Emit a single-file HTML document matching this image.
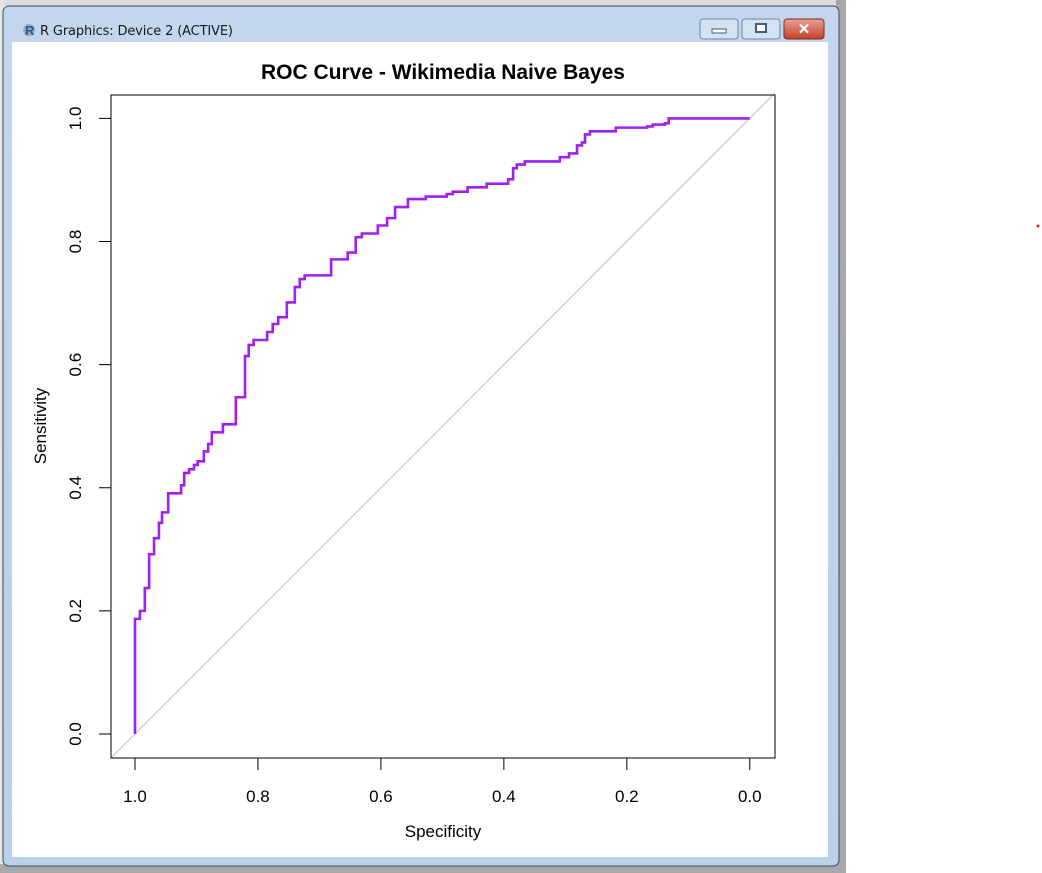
<!DOCTYPE html>
<html><head><meta charset="utf-8"><style>
body{margin:0;width:1042px;height:873px;background:#fff;position:relative;overflow:hidden;font-family:"Liberation Sans",sans-serif}
</style></head><body>
<svg width="1042" height="873" style="position:absolute;left:0;top:0">
<defs><linearGradient id="fr" x1="0" y1="0" x2="0" y2="1"><stop offset="0" stop-color="#c2d6ee"/><stop offset="1" stop-color="#b9d1ea"/></linearGradient>
<linearGradient id="cl" x1="0" y1="0" x2="0" y2="1"><stop offset="0" stop-color="#e8a194"/><stop offset="1" stop-color="#c2412a"/></linearGradient></defs>
<rect x="0" y="0" width="846" height="6" fill="#dcdcdc"/>
<rect x="0" y="0" width="4" height="873" fill="#e6e6e6"/>
<rect x="0" y="864" width="846" height="9" fill="#a8a8a8"/>
<rect x="836" y="0" width="10" height="873" fill="#a8a8a8"/>
<rect x="3" y="6" width="836" height="860" rx="6" fill="url(#fr)" stroke="#3a4a5c" stroke-width="1"/>
<rect x="12" y="42" width="816" height="815" fill="#fff"/>
<circle cx="29" cy="30" r="6" fill="#9aa8b8"/>
<text x="25" y="35" font-size="13" font-weight="bold" fill="#2a5aa8">R</text>
<text x="40" y="35" font-size="13" fill="#1a1a1a" font-family="'DejaVu Sans',sans-serif" textLength="193">R Graphics: Device 2 (ACTIVE)</text>
<g><rect x="700" y="19" width="38" height="20" rx="3" fill="#d5e2f1" stroke="#6e86a4"/><rect x="712" y="29" width="14" height="4" fill="#fff" stroke="#435a78"/></g>
<g><rect x="742" y="19" width="38" height="20" rx="3" fill="#d5e2f1" stroke="#6e86a4"/><rect x="756" y="24" width="10" height="8" fill="#fff" stroke="#435a78" stroke-width="2"/></g>
<g><rect x="784" y="19" width="40" height="20" rx="3" fill="url(#cl)" stroke="#7a2a20"/><text x="804" y="34" font-size="15" font-weight="bold" fill="#fff" text-anchor="middle">✕</text></g>
<circle cx="1038" cy="226" r="1.5" fill="#e02020"/>
<g id="chart"></g>
</svg>
<script>
const specificity=[1,1,.992,.984,.977,.969,.961,.956,.946,.925,.920,.912,.904,.898,.888,.881,.875,.857,.836,.821,.815,.807,.785,.776,.767,.753,.740,.732,.724,.681,.654,.641,.631,.605,.590,.577,.556,.527,.493,.483,.459,.428,.393,.385,.379,.366,.309,.294,.281,.273,.268,.260,.218,.167,.158,.138,.132,0];
const sensitivity=[0,.187,.200,.237,.292,.318,.343,.360,.391,.404,.424,.430,.437,.443,.459,.471,.490,.503,.547,.614,.632,.640,.653,.666,.677,.701,.726,.739,.745,.771,.782,.807,.813,.826,.838,.856,.869,.873,.877,.881,.888,.894,.901,.919,.925,.930,.937,.943,.956,.961,.974,.979,.985,.987,.990,.992,1,1];
const xTicks=[1.0,0.8,0.6,0.4,0.2,0.0];
const yTicks=[0.0,0.2,0.4,0.6,0.8,1.0];
const NS='http://www.w3.org/2000/svg';
const g=document.getElementById('chart');
const L=111,R=775,T=95,B=758;
const xmin=1.039,xmax=-0.041,ymin=-0.039,ymax=1.038;
const sx=v=>L+(v-xmin)/(xmax-xmin)*(R-L);
const sy=v=>B-(v-ymin)/(ymax-ymin)*(B-T);
function mk(tag,at,txt){const e=document.createElementNS(NS,tag);for(const k in at)e.setAttribute(k,at[k]);if(txt!=null)e.textContent=txt;g.appendChild(e);return e;}
let e;
e=mk('line',{x1:sx(xmin),y1:sy(1-xmin),x2:sx(xmax),y2:sy(1-xmax),stroke:'#c0c0c0','stroke-width':1});


let d='M'+sx(specificity[0])+' '+sy(sensitivity[0]);
for(let i=1;i<specificity.length;i++){d+=' H'+sx(specificity[i])+' V'+sy(sensitivity[i]);}
e=mk('path',{d:d,fill:'none',stroke:'#a020f0','stroke-width':2.6});


e=mk('rect',{x:L,y:T,width:R-L,height:B-T,fill:'none',stroke:'#000','stroke-width':1});


mk('line',{x1:sx(1),y1:B,x2:sx(0),y2:B,stroke:'#000'});
xTicks.forEach(v=>{
 mk('line',{x1:sx(v),y1:B,x2:sx(v),y2:B+12,stroke:'#000'});
 e=mk('text',{x:sx(v),y:802,'font-size':17,'text-anchor':'middle',fill:'#000'},v.toFixed(1));
 
 
});
mk('line',{x1:L,y1:sy(0),x2:L,y2:sy(1),stroke:'#000'});
yTicks.forEach(v=>{
 mk('line',{x1:L-12,y1:sy(v),x2:L,y2:sy(v),stroke:'#000'});
 e=mk('text',{x:0,y:0,'font-size':17,'text-anchor':'middle',fill:'#000',transform:`translate(81,${sy(v)}) rotate(-90)`},v.toFixed(1));
 
 
});
e=mk('text',{x:443,y:837,'font-size':17,'text-anchor':'middle',fill:'#000'},'Specificity');


e=mk('text',{x:0,y:0,'font-size':17,'text-anchor':'middle',fill:'#000',transform:'translate(46,426) rotate(-90)'},'Sensitivity');


e=mk('text',{x:443,y:79,'font-size':21,'font-weight':'bold','text-anchor':'middle',fill:'#000'},'ROC Curve - Wikimedia Naive Bayes');


</script>
</body></html>
